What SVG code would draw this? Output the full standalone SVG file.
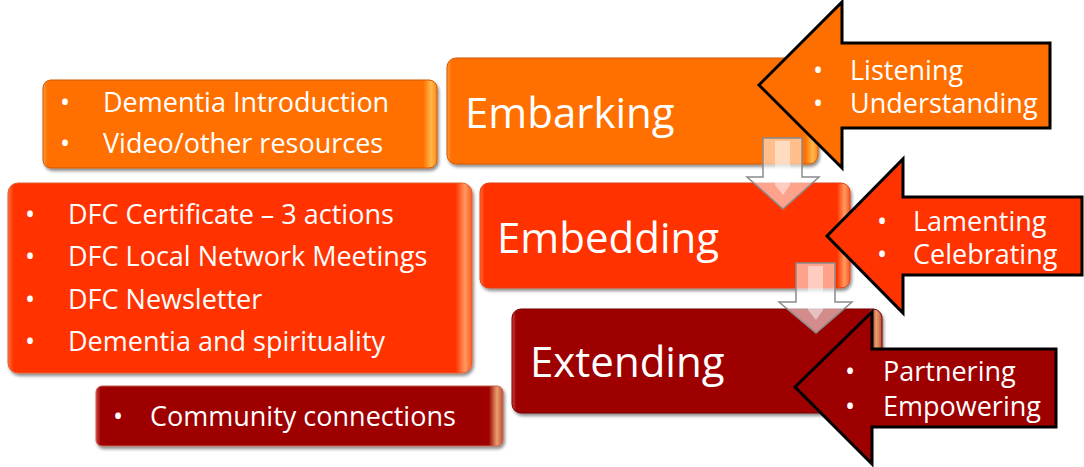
<svg xmlns="http://www.w3.org/2000/svg" width="1084" height="467" viewBox="0 0 1084 467">
<defs>
<style>
text{font-family:"Open Sans","Noto Sans","DejaVu Sans",sans-serif;fill:#ffffff}
.s{font-size:27px}
.b{font-size:27px;text-anchor:middle}
.t{font-size:42px}
.callout{stroke:#000000;stroke-width:3;stroke-linejoin:miter}
.box{stroke-width:1}
.down{fill:#ffffff;fill-opacity:0.55;stroke:#8a8a8a;stroke-width:1.5}
.hl{fill:#ffffff;fill-opacity:0.45}
</style>
<filter id="sh" x="-5%" y="-10%" width="112%" height="125%">
<feDropShadow dx="1.5" dy="2.5" stdDeviation="1.8" flood-color="#000" flood-opacity="0.45"/>
</filter>
<linearGradient id="gO" x1="0" y1="0" x2="1" y2="0">
<stop offset="0" stop-color="#ff9a40"/>
<stop offset="0.012" stop-color="#ff6f00"/>
<stop offset="0.965" stop-color="#ff6f00"/>
<stop offset="0.985" stop-color="#ffb84a"/>
<stop offset="1" stop-color="#ff8a1a"/>
</linearGradient>
<linearGradient id="gR" x1="0" y1="0" x2="1" y2="0">
<stop offset="0" stop-color="#ff7040"/>
<stop offset="0.012" stop-color="#ff3300"/>
<stop offset="0.965" stop-color="#ff3300"/>
<stop offset="0.985" stop-color="#ff9a60"/>
<stop offset="1" stop-color="#ff5a20"/>
</linearGradient>
<linearGradient id="gD" x1="0" y1="0" x2="1" y2="0">
<stop offset="0" stop-color="#d04040"/>
<stop offset="0.012" stop-color="#9e0000"/>
<stop offset="0.965" stop-color="#9e0000"/>
<stop offset="0.985" stop-color="#e8a070"/>
<stop offset="1" stop-color="#c05030"/>
</linearGradient>
</defs>
<rect width="1084" height="467" fill="#ffffff"/>

<g id="box-intro">
<rect class="box" x="43" y="80" width="394" height="88" rx="8" fill="url(#gO)" stroke="#d05a00" filter="url(#sh)"/>
<text class="b" x="65" y="112">•</text><text class="s" x="103" y="112">Dementia Introduction</text>
<text class="b" x="65" y="153">•</text><text class="s" x="103" y="153">Video/other resources</text>
</g>

<g id="box-dfc">
<rect class="box" x="8" y="183" width="464" height="190" rx="10" fill="url(#gR)" stroke="#e06030" filter="url(#sh)"/>
<text class="b" x="30" y="224">•</text><text class="s" x="68" y="224">DFC Certificate – 3 actions</text>
<text class="b" x="30" y="266">•</text><text class="s" x="68" y="266">DFC Local Network Meetings</text>
<text class="b" x="30" y="309">•</text><text class="s" x="68" y="309">DFC Newsletter</text>
<text class="b" x="30" y="351">•</text><text class="s" x="68" y="351">Dementia and spirituality</text>
</g>

<g id="box-community">
<rect class="box" x="96" y="386" width="407" height="60" rx="6" fill="url(#gD)" stroke="#c06050" filter="url(#sh)"/>
<text class="b" x="118" y="426">•</text><text class="s" x="150" y="426">Community connections</text>
</g>

<g id="embarking">
<rect class="box" x="447" y="58" width="371" height="106" rx="9" fill="url(#gO)" stroke="#d05a00" filter="url(#sh)"/>
<text class="t" x="465" y="128">Embarking</text>
</g>

<g id="embedding">
<rect class="box" x="480" y="183" width="370" height="105" rx="9" fill="url(#gR)" stroke="#e04010" filter="url(#sh)"/>
<text class="t" x="497" y="253">Embedding</text>
</g>

<g id="extending">
<rect class="box" x="512" y="309" width="370" height="104" rx="9" fill="url(#gD)" stroke="#700000" filter="url(#sh)"/>
<text class="t" x="530" y="377">Extending</text>
</g>

<g id="connectors">
<path class="down" d="M763,138 L802,138 L802,177 L819,177 L783,209 L747,177 L763,177 Z"/>
<path class="hl" d="M775,141 L790,141 L790,185 L783,195 L775,185 Z"/>
<path class="down" d="M796,263 L835,263 L835,302 L852,302 L816,333 L779,302 L796,302 Z"/>
<path class="hl" d="M808,266 L823,266 L823,310 L816,320 L808,310 Z"/>
</g>

<g id="listening">
<path class="callout" d="M759,85 L842,2 L842,43 L1050,43 L1050,128 L842,128 L842,168 Z" fill="#ff6f00"/>
<text class="b" x="818" y="80">•</text><text class="s" x="850" y="80">Listening</text>
<text class="b" x="818" y="113">•</text><text class="s" x="850" y="113">Understanding</text>
</g>

<g id="lamenting">
<path class="callout" d="M827,236 L903,159 L903,197 L1082,197 L1082,275 L903,275 L903,313 Z" fill="#ff3300"/>
<text class="b" x="882" y="231">•</text><text class="s" x="913" y="231">Lamenting</text>
<text class="b" x="882" y="264">•</text><text class="s" x="913" y="264">Celebrating</text>
</g>

<g id="partnering">
<path class="callout" d="M795,387 L872,312 L872,349 L1056,349 L1056,427 L872,427 L872,464 Z" fill="#9e0000"/>
<text class="b" x="850" y="381">•</text><text class="s" x="883" y="381">Partnering</text>
<text class="b" x="850" y="416">•</text><text class="s" x="883" y="416">Empowering</text>
</g>
</svg>
